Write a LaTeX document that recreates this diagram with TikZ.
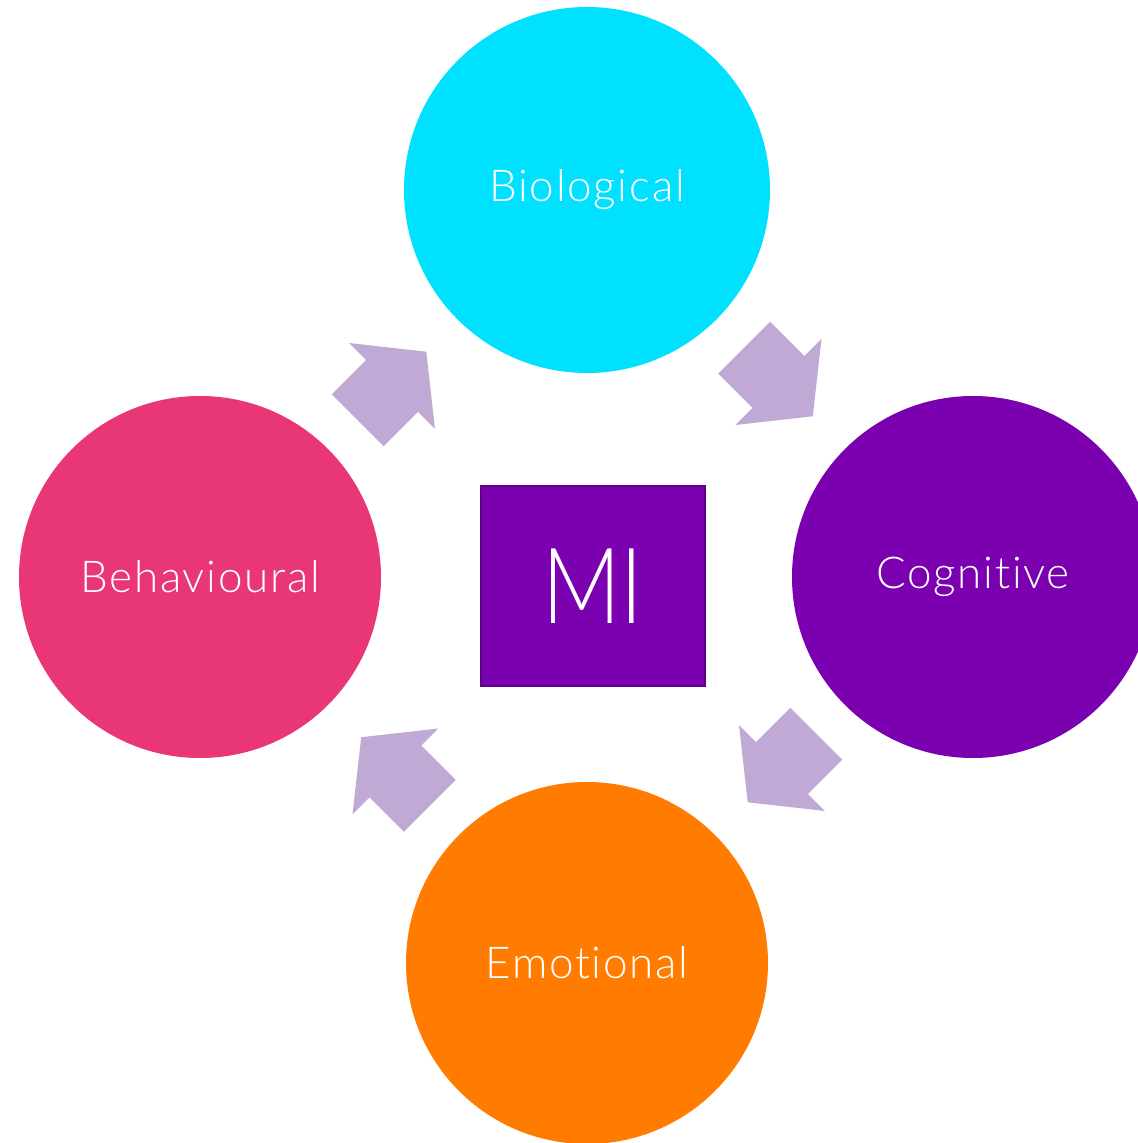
\documentclass[tikz,border=0pt]{standalone}
\usepackage{fontspec}
\setmainfont{Lato}[UprightFont=* Light, Ligatures=NoCommon, LetterSpace=4]
\definecolor{biocyan}{RGB}{0,225,255}
\definecolor{cogpurple}{RGB}{122,0,176}
\definecolor{behavpink}{RGB}{232,54,119}
\definecolor{emoorange}{RGB}{255,124,0}
\definecolor{miborder}{RGB}{92,0,135}
\definecolor{arrowlilac}{RGB}{192,170,213}
% block arrow, pointing along +x, centred on the line of its barbs
\newcommand{\blockarrowpath}{(-0.97,0.735) -- (0,0.735) -- (0,1.216) -- (0.97,0)
  -- (0,-1.216) -- (0,-0.735) -- (-0.97,-0.735) -- cycle}
\begin{document}
\begin{tikzpicture}[
    area/.style={circle, draw=none, minimum size=7.24cm, inner sep=0,
      text=white, font=\fontsize{25}{30}\selectfont},
    cyclearrow/.style={fill=arrowlilac, draw=none}]
  \useasboundingbox (-11.74,-11.32) rectangle (11.0,11.54);

  \node[rectangle, draw=miborder, line width=1.2pt, fill=cogpurple,
    minimum width=4.48cm, minimum height=4cm, inner sep=0,
    text=white, font=\fontsize{60}{72}\selectfont] (mi) at (0.12,-0.18)
    {\addfontfeature{LetterSpace=0}\scalebox{0.82}[1]{MI}};

  \node[area, fill=biocyan, minimum size=7.32cm] (bio) at (0, 7.74) {Biological};
  \node[area, fill=cogpurple] (cog) at (7.72, 0) {Cognitive};
  \node[area, fill=emoorange] (emo) at (0, -7.72) {Emotional};
  \node[area, fill=behavpink] (behav) at (-7.74, 0) {Behavioural};

  % arrows of the cycle
  \fill[cyclearrow, shift={(-3.9, 3.82)}, rotate=45] \blockarrowpath;
  \fill[cyclearrow, shift={(3.83, 3.9)}, rotate=-45] \blockarrowpath;
  \fill[cyclearrow, shift={(3.9, -3.82)}, rotate=-135] \blockarrowpath;
  \fill[cyclearrow, shift={(-3.83, -3.89)}, rotate=135] \blockarrowpath;
\end{tikzpicture}
\end{document}
